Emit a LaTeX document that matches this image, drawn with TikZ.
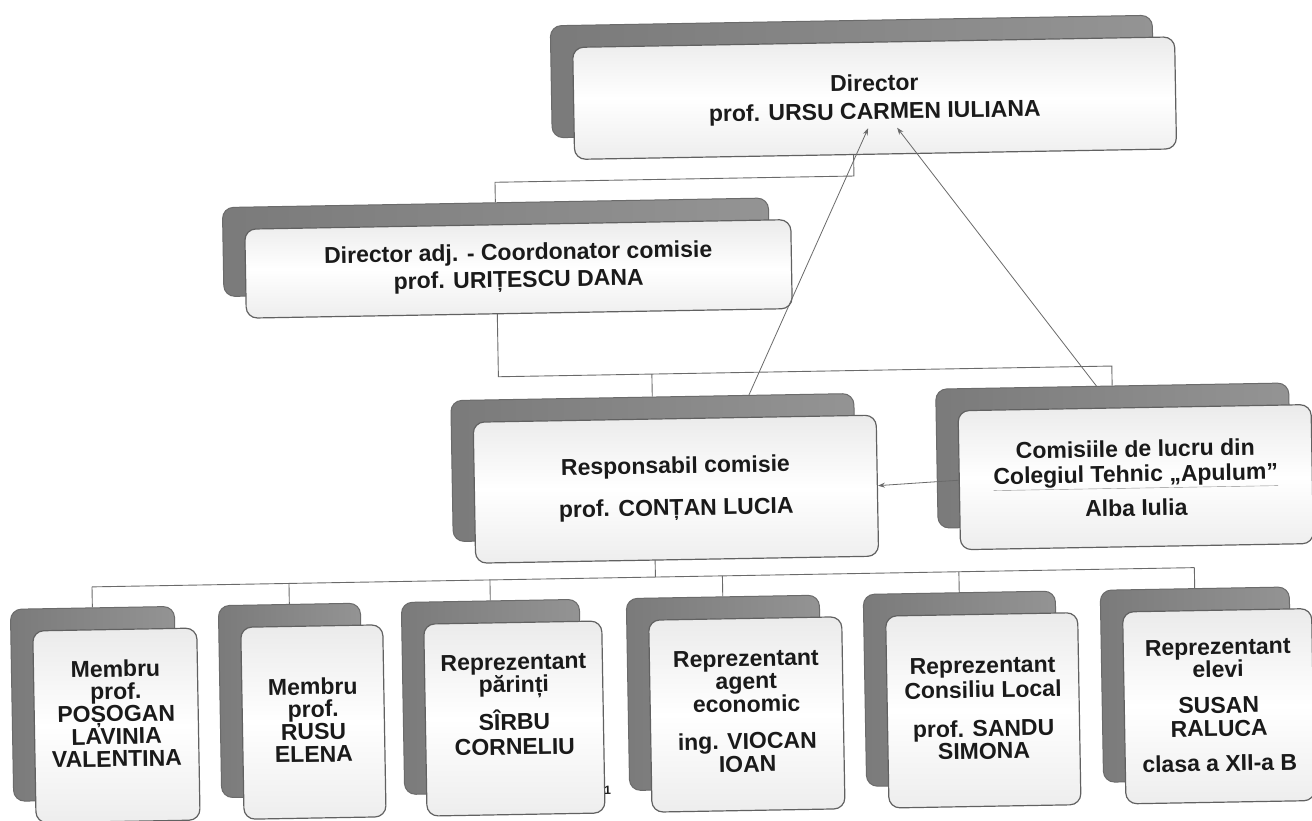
\documentclass[tikz,border=0pt]{standalone}
\usepackage{fontspec}
\setmainfont{Liberation Sans}
\usetikzlibrary{arrows.meta}
\pgfdeclarelayer{bg}
\pgfsetlayers{bg,main}
\definecolor{txt}{HTML}{1A1A1A}
\definecolor{conn}{HTML}{6A6A6A}
\begin{document}
\begin{tikzpicture}[x=1pt,y=-1pt,
  backbox/.style={draw=black!58, line width=1pt, rounded corners=11pt,
    left color=black!52, right color=black!42, inner sep=0pt},
  frontbox/.style={draw=black!62, line width=1.2pt, rounded corners=11pt,
    top color=black!8, bottom color=black!7, middle color=white, inner sep=0pt},
  lbl/.style={text=txt, font=\bfseries\fontsize{23}{22.5}\selectfont, align=center, inner sep=0pt},
  conn/.style={draw=conn, line width=0.9pt},
  arr/.style={draw=conn, line width=0.8pt, -{Stealth[length=7pt,width=5pt]}}]
\useasboundingbox (0,0) rectangle (1312,820);
\begin{pgfonlayer}{bg}
\fill[white] (0,0) rectangle (1312,820);
\end{pgfonlayer}
\clip (0,0) rectangle (1312,820);
\begin{scope}[rotate around={1:(656,410)}, transform shape]
% boxes
\node[backbox, minimum width=602pt, minimum height=112pt] (dirB) at (858,80) {};
\node[frontbox, minimum width=602pt, minimum height=112pt] (dirF) at (880,102) {};
\node[backbox, minimum width=546pt, minimum height=89pt] (adjB) at (499,244.5) {};
\node[frontbox, minimum width=546pt, minimum height=89pt] (adjF) at (521,266.5) {};
\node[backbox, minimum width=403pt, minimum height=141pt] (resB) at (652.5,467.5) {};
\node[frontbox, minimum width=403pt, minimum height=141pt] (resF) at (674.5,489.5) {};
\node[backbox, minimum width=353pt, minimum height=139pt] (comB) at (1112.5,463.5) {};
\node[frontbox, minimum width=353pt, minimum height=139pt] (comF) at (1134.5,485.5) {};
\node[backbox, minimum width=164pt, minimum height=192pt] (m1B) at (89,694) {};
\node[frontbox, minimum width=164pt, minimum height=192pt] (m1F) at (111,716) {};
\node[backbox, minimum width=142pt, minimum height=192pt] (m2B) at (286,694) {};
\node[frontbox, minimum width=142pt, minimum height=192pt] (m2F) at (308,716) {};
\node[backbox, minimum width=178pt, minimum height=192pt] (m3B) at (487,694) {};
\node[frontbox, minimum width=178pt, minimum height=192pt] (m3F) at (509,716) {};
\node[backbox, minimum width=193pt, minimum height=192pt] (m4B) at (719.5,694) {};
\node[frontbox, minimum width=193pt, minimum height=192pt] (m4F) at (741.5,716) {};
\node[backbox, minimum width=192pt, minimum height=192pt] (m5B) at (956,694) {};
\node[frontbox, minimum width=192pt, minimum height=192pt] (m5F) at (978,716) {};
\node[backbox, minimum width=189pt, minimum height=192pt] (m6B) at (1191.5,694) {};
\node[frontbox, minimum width=189pt, minimum height=192pt] (m6F) at (1213.5,716) {};
% labels
\node[lbl] (dirT) at (880,103) {Director\\[5.5pt]prof. URSU CARMEN IULIANA};
\node[lbl] (adjT) at (521,265.5) {Director adj. - Coordonator comisie\\[4.5pt]prof. URIȚESCU DANA};
\node[lbl] (resT) at (674.5,489) {Responsabil comisie\\[19.5pt]prof. CONȚAN LUCIA};
\node[lbl] (comT) at (1134.5,486.5) {Comisiile de lucru din\\[2.5pt]{\color{black!45}\underline{\textcolor{txt}{Colegiul Tehnic „Apulum”}}}\\[9.5pt]Alba Iulia};
\node[lbl] (m1T) at (111,704) {Membru\\prof.\\POȘOGAN\\LAVINIA\\VALENTINA};
\node[lbl] (m2T) at (308,714) {Membru\\prof.\\RUSU\\ELENA};
\node[lbl] (m3T) at (509,702) {Reprezentant\\părinți\\[10.5pt]SÎRBU\\[2.5pt]CORNELIU};
\node[lbl] (m4T) at (741.5,713) {Reprezentant\\agent\\[0.5pt]economic\\[14.5pt]ing. VIOCAN\\[0.5pt]IOAN};
\node[lbl] (m5T) at (978,714) {Reprezentant\\[2pt]Consiliu Local\\[16.5pt]prof. SANDU\\SIMONA};
\node[lbl] (m6T) at (1213.5,715) {Reprezentant\\elevi\\[13.5pt]SUSAN\\[0.5pt]RALUCA\\[12.5pt]clasa a XII-a B};
\node[text=txt, font=\bfseries\fontsize{12}{12}\selectfont, inner sep=0pt] (pg) at (601,789) {1};
% junction points
\coordinate (jD1) at (858,179.5);
\coordinate (jD2) at (499,179.5);
\coordinate (jA1) at (499,374);
\coordinate (jA2) at (652.5,374);
\coordinate (jA3) at (1112.5,374);
\coordinate (jR) at (652.5,577);
\coordinate (jB1) at (89,577);
\coordinate (jB2) at (286,577);
\coordinate (jB3) at (487,577);
\coordinate (jB4) at (719.5,577);
\coordinate (jB5) at (956,577);
\coordinate (jB6) at (1191.5,577);
\coordinate (tA) at (873,132);
\coordinate (tB) at (902,132);
\coordinate (sA) at (749,397);
\coordinate (sB) at (1097,394);
% connectors behind boxes
\begin{pgfonlayer}{bg}
\draw[conn] (dirB.south) -- (jD1) -- (jD2) -- (adjB.north);
\draw[conn] (adjB.south) -- (jA1) -- (jA3) -- (comB.north);
\draw[conn] (jA2) -- (resB.north);
\draw[conn] (resB.south) -- (jR);
\draw[conn] (jB1) -- (jB6);
\foreach \i in {1,...,6} {\draw[conn] (jB\i) -- (m\i B.north);}
\end{pgfonlayer}
% arrows on top
\draw[arr] (sA) -- (tA);
\draw[arr] (sB) -- (tB);
\draw[arr] (comF.west) -- (resF.east);
\end{scope}
\end{tikzpicture}
\end{document}
